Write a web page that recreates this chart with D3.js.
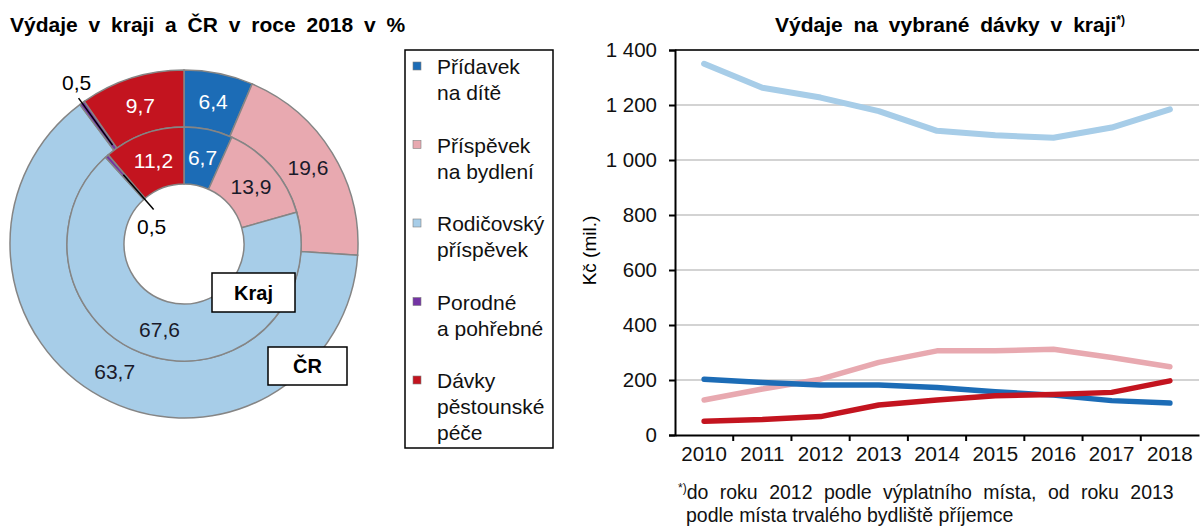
<!DOCTYPE html>
<html>
<head>
<meta charset="utf-8">
<script src="https://cdn.jsdelivr.net/npm/d3@7"></script>
<style>
  body { margin: 0; background: #fff; }
  svg { font-family: Arial, "Liberation Sans", sans-serif; }
</style>
</head>
<body>
<svg id="chart" width="1200" height="530"></svg>
<script>
// categories (pie order, clockwise from 12 o'clock)
const categories = ['Přídavek na dítě', 'Příspěvek na bydlení', 'Rodičovský příspěvek', 'Porodné a pohřebné', 'Dávky pěstounské péče']
const legendLines = [['Přídavek', 'na dítě'], ['Příspěvek', 'na bydlení'], ['Rodičovský', 'příspěvek'], ['Porodné', 'a pohřebné'], ['Dávky', 'pěstounské', 'péče']]
const colors = ['#1c6cb6', '#e8a9b0', '#a7cde8', '#7434a4', '#c3141f']

// shares in 2018 (%)
const krajShare = [6.7, 13.9, 67.6, 0.5, 11.2]
const crShare = [6.4, 19.6, 63.7, 0.5, 9.7]

// expenditures in region (mil. Kč)
const years = [2010, 2011, 2012, 2013, 2014, 2015, 2016, 2017, 2018]
const pridavek = [203, 191, 182, 182, 173, 157, 145, 125, 116]
const bydleni = [127, 167, 203, 264, 306, 306, 312, 282, 248]
const rodicovsky = [1350, 1263, 1227, 1178, 1106, 1090, 1081, 1118, 1184]
const pestounske = [50, 56, 67, 109, 127, 143, 147, 155, 197]
const yTicks = [0, 200, 400, 600, 800, 1000, 1200, 1400]

const svg = d3.select('#chart')
const fmtNum = d => String(d).replace('.', ',')

// ---------- titles ----------
svg.append('text')
  .attr('x', 10).attr('y', 32)
  .attr('font-size', 21).attr('font-weight', 'bold').attr('word-spacing', 5)
  .text('Výdaje v kraji a ČR v roce 2018 v %')

const t2 = svg.append('text')
  .attr('x', 950).attr('y', 32)
  .attr('text-anchor', 'middle')
  .attr('font-size', 21).attr('font-weight', 'bold').attr('word-spacing', 5)
t2.append('tspan').text('Výdaje na vybrané  dávky v kraji')
t2.append('tspan').attr('font-size', 12).attr('dy', -8).text('*)')

// ---------- donut ----------
const cx = 184, cy = 244
const rHole = 60, rMid = 117, rOut = 174

const pie = d3.pie().sort(null).value(d => d)
const arcOuter = d3.arc().innerRadius(rMid).outerRadius(rOut)
const arcInner = d3.arc().innerRadius(rHole).outerRadius(rMid)

const donut = svg.append('g').attr('transform', `translate(${cx},${cy})`)

const rings = [
  { arcs: pie(crShare), arc: arcOuter },
  { arcs: pie(krajShare), arc: arcInner },
]

rings.forEach(ring => {
  donut.append('g')
    .selectAll('path')
    .data(ring.arcs)
    .join('path')
    .attr('d', ring.arc)
    .attr('fill', (d, i) => colors[i])
    .attr('stroke', '#858585')
    .attr('stroke-width', 1.5)

  donut.append('g')
    .selectAll('text')
    .data(ring.arcs.filter(d => d.data > 1))
    .join('text')
    .attr('transform', d => `translate(${ring.arc.centroid(d)})`)
    .attr('text-anchor', 'middle')
    .attr('dy', '0.36em')
    .attr('font-size', 21)
    .attr('fill', d => (d.index === 0 || d.index === 4) ? '#fff' : '#1a1a2a')
    .text(d => fmtNum(d.data))
})

// leader lines for small slices
const radial = (a, r) => [Math.sin(a) * r, -Math.cos(a) * r]
const crSmall = rings[0].arcs[3]
const krSmall = rings[1].arcs[3]
const aCr = (crSmall.startAngle + crSmall.endAngle) / 2
const aKr = (krSmall.startAngle + krSmall.endAngle) / 2

donut.append('line')
  .attr('x1', radial(aCr, 122)[0]).attr('y1', radial(aCr, 122)[1])
  .attr('x2', radial(aCr, 180)[0]).attr('y2', radial(aCr, 180)[1])
  .attr('stroke', '#000').attr('stroke-width', 1.5)
donut.append('text')
  .attr('x', radial(aCr, 180)[0] - 2).attr('y', radial(aCr, 180)[1] - 8)
  .attr('text-anchor', 'middle').attr('font-size', 21)
  .text(fmtNum(crShare[3]))

donut.append('line')
  .attr('x1', radial(aKr, 92)[0]).attr('y1', radial(aKr, 92)[1])
  .attr('x2', radial(aKr, 46)[0]).attr('y2', radial(aKr, 46)[1])
  .attr('stroke', '#000').attr('stroke-width', 1.5)
donut.append('text')
  .attr('x', radial(aKr, 46)[0] - 2).attr('y', radial(aKr, 46)[1] + 25)
  .attr('text-anchor', 'middle').attr('font-size', 21)
  .text(fmtNum(krajShare[3]))

// ring name boxes
const boxes = [
  { label: 'Kraj', x: 212, y: 273, w: 83, h: 39 },
  { label: 'ČR', x: 268, y: 347, w: 79, h: 38 },
]
boxes.forEach(b => {
  svg.append('rect')
    .attr('x', b.x).attr('y', b.y).attr('width', b.w).attr('height', b.h)
    .attr('fill', '#fff').attr('stroke', '#000').attr('stroke-width', 1.5)
  svg.append('text')
    .attr('x', b.x + b.w / 2).attr('y', b.y + b.h / 2)
    .attr('dy', '0.36em').attr('text-anchor', 'middle')
    .attr('font-size', 20).attr('font-weight', 'bold')
    .text(b.label)
})

// ---------- legend ----------
const legend = svg.append('g')
legend.append('rect')
  .attr('x', 405).attr('y', 50).attr('width', 148).attr('height', 398)
  .attr('fill', 'none').attr('stroke', '#000').attr('stroke-width', 1.5)

const item = legend.selectAll('g.item')
  .data(legendLines)
  .join('g')
  .attr('class', 'item')
  .attr('transform', (d, i) => `translate(413,${62 + i * 78.5})`)

item.append('rect')
  .attr('width', 8).attr('height', 8)
  .attr('fill', (d, i) => colors[i])
  .attr('stroke', '#7f7f7f').attr('stroke-width', 0.6)

item.selectAll('text')
  .data(d => d)
  .join('text')
  .attr('x', 24)
  .attr('y', (d, j) => 12 + j * 26)
  .attr('font-size', 21)
  .attr('fill', '#111')
  .text(d => d)

// ---------- line chart ----------
const x0 = 675, x1 = 1199, y0 = 435, y1 = 50
const x = d3.scaleBand().domain(years).range([x0, x1])
const y = d3.scaleLinear().domain([0, 1400]).range([y0, y1])

const czFmt = d3.formatLocale({ thousands: '\u00a0', grouping: [3], decimal: ',', currency: ['', ''] }).format(',d')

const plot = svg.append('g')

// gridlines
plot.append('g')
  .selectAll('line')
  .data(yTicks.filter(d => d > 0 && d < 1400))
  .join('line')
  .attr('x1', x0).attr('x2', x1)
  .attr('y1', d => y(d)).attr('y2', d => y(d))
  .attr('stroke', '#c4c4c4').attr('stroke-width', 1.5)

plot.append('line')
  .attr('x1', x0).attr('x2', x1)
  .attr('y1', y(1400)).attr('y2', y(1400))
  .attr('stroke', '#333').attr('stroke-width', 2)

// y axis
const yAxis = d3.axisLeft(y).tickValues(yTicks).tickFormat(czFmt).tickSize(6).tickPadding(12)
const gy = plot.append('g').attr('transform', `translate(${x0},0)`).call(yAxis)
gy.select('.domain').attr('stroke', '#000').attr('stroke-width', 2)
gy.selectAll('.tick line').attr('stroke', '#000').attr('stroke-width', 2)
gy.selectAll('.tick text').attr('font-size', 20.5).attr('fill', '#111').attr('font-family', 'Arial, "Liberation Sans", sans-serif')

// x axis
const xAxis = d3.axisBottom(x).tickSize(0).tickPadding(11)
const gx = plot.append('g').attr('transform', `translate(0,${y0})`).call(xAxis)
gx.select('.domain').attr('stroke', '#000').attr('stroke-width', 2)
gx.selectAll('.tick text').attr('font-size', 20.5).attr('fill', '#111').attr('font-family', 'Arial, "Liberation Sans", sans-serif')
// ticks between categories
plot.append('g')
  .selectAll('line')
  .data(years.slice(1))
  .join('line')
  .attr('x1', d => x(d)).attr('x2', d => x(d))
  .attr('y1', y0).attr('y2', y0 + 6)
  .attr('stroke', '#000').attr('stroke-width', 2)

svg.append('text')
  .attr('transform', `translate(596,${(y0 + y1) / 2 + 8}) rotate(-90)`)
  .attr('text-anchor', 'middle')
  .attr('font-size', 19)
  .text('Kč (mil.)')

const series = [
  { values: bydleni, color: colors[1], width: 5.5 },
  { values: rodicovsky, color: colors[2], width: 6 },
  { values: pridavek, color: colors[0], width: 5.5 },
  { values: pestounske, color: colors[4], width: 5.5 },
]

const line = d3.line()
  .x((d, i) => x(years[i]) + x.bandwidth() / 2)
  .y(d => y(d))

plot.append('g')
  .selectAll('path')
  .data(series)
  .join('path')
  .attr('d', d => line(d.values))
  .attr('fill', 'none')
  .attr('stroke', d => d.color)
  .attr('stroke-width', d => d.width)
  .attr('stroke-linecap', 'round')
  .attr('stroke-linejoin', 'round')

// footnote
const foot = svg.append('text').attr('font-size', 19.5).attr('fill', '#111')
foot.append('tspan').attr('x', 678).attr('y', 499).attr('font-size', 12).attr('dy', -7).text('*)')
foot.append('tspan').attr('dy', 7).attr('word-spacing', 6).text('do roku 2012 podle výplatního místa, od roku 2013')
foot.append('tspan').attr('x', 686).attr('y', 522).text('podle místa trvalého bydliště příjemce')
</script>
</body>
</html>
